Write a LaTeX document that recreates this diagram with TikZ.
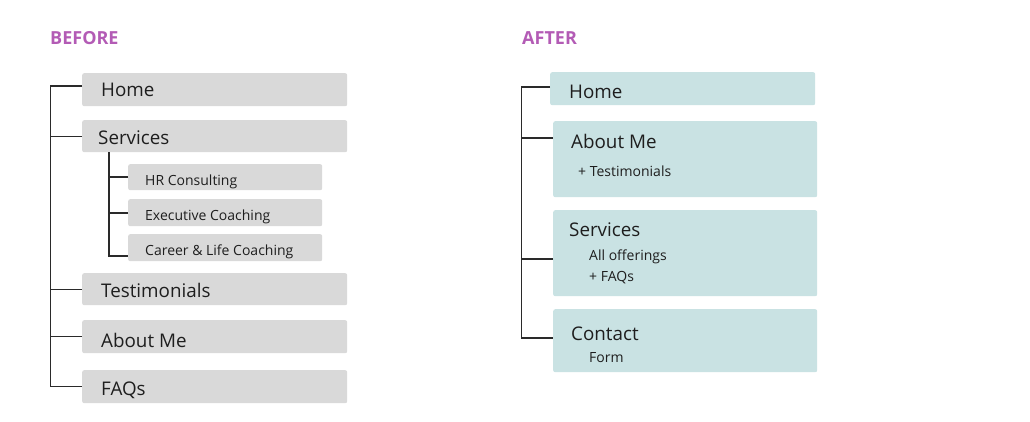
\documentclass[tikz,border=0pt]{standalone}
\usepackage{fontspec}
\setmainfont{Open Sans}
\usetikzlibrary{positioning,calc}
\definecolor{boxgray}{HTML}{D9D9D9}
\definecolor{boxteal}{HTML}{C9E2E3}
\definecolor{heading}{HTML}{B35BB5}
\definecolor{ink}{HTML}{1E1E1E}
\definecolor{wire}{HTML}{2A2A2A}

\begin{document}
\begin{tikzpicture}[x=1pt, y=-1pt,
  gbox/.style={fill=boxgray, rounded corners=2pt, anchor=north west, inner sep=0pt},
  tbox/.style={fill=boxteal, rounded corners=2pt, anchor=north west, inner sep=0pt},
  head/.style={font=\bfseries\fontsize{18}{20}\selectfont, text=heading, anchor=base west, inner sep=0pt},
  item/.style={font=\fontsize{18.8}{22}\selectfont, text=ink, anchor=base west, inner sep=0pt},
  sub/.style={font=\fontsize{14}{16}\selectfont, text=ink, anchor=base west, inner sep=0pt},
  tree/.style={draw=wire, line width=1.1pt}]
\useasboundingbox (0,0) rectangle (1030,421);

% before
\node[head] (hbefore) at (50,44) {BEFORE};
\node[gbox, minimum width=265pt, minimum height=33pt] (bhome) at (82,73) {};
\node[gbox, minimum width=265pt, minimum height=32pt] (bserv) at (82,120) {};
\node[gbox, minimum width=194pt, minimum height=26pt] (bhr) at (128,164) {};
\node[gbox, minimum width=194pt, minimum height=27pt] (bexec) at (128,199) {};
\node[gbox, minimum width=194pt, minimum height=27pt] (bcareer) at (128,234) {};
\node[gbox, minimum width=265pt, minimum height=32pt] (btest) at (82,273) {};
\node[gbox, minimum width=265pt, minimum height=33pt] (babout) at (82,320) {};
\node[gbox, minimum width=265pt, minimum height=33pt] (bfaqs) at (82,370) {};
\node[item] at (101,96) {Home};
\node[item] at (98,144) {Services};
\node[sub] at (145,185) {HR Consulting};
\node[sub] at (145,220) {Executive Coaching};
\node[sub] at (145,255) {Career \& Life Coaching};
\node[item] at (101,297) {Testimonials};
\node[item] at (101,347) {About Me};
\node[item] at (101,395) {FAQs};

\coordinate (btrunk) at (50.5,0);
\coordinate (bsub) at (109,152);
\draw[tree] ($(bhome.north west)+(0,13)$) -| (btrunk |- bfaqs.west) -- (bfaqs.west);
\foreach \b in {bserv, btest, babout}
  \draw[tree] (\b.west) -- (\b.west -| btrunk);
\draw[tree] (bsub) |- ($(bcareer.north west)+(0,22)$);
\foreach \b/\d in {bhr/13, bexec/14}
  \draw[tree] ($(\b.north west)+(0,\d)$) -- ++(-19,0);

% after
\node[head] (hafter) at (522,44) {AFTER};
\node[tbox, minimum width=265pt, minimum height=33pt] (ahome) at (550,72) {};
\node[tbox, minimum width=264pt, minimum height=76pt] (aabout) at (553,121) {};
\node[tbox, minimum width=264pt, minimum height=86pt] (aserv) at (553,210) {};
\node[tbox, minimum width=264pt, minimum height=63pt] (acont) at (553,309) {};
\node[item] at (569,98) {Home};
\node[item] at (571,148) {About Me};
\node[sub] at (578,176) {+ Testimonials};
\node[item] at (569,236) {Services};
\node[sub] at (589,260) {All offerings};
\node[sub] at (589,281) {+ FAQs};
\node[item] at (571,340) {Contact};
\node[sub] at (589,362) {Form};

\coordinate (atrunk) at (521.5,0);
\draw[tree] ($(ahome.north west)+(0,15)$) -| (atrunk |- 0,338) -- ($(acont.north west)+(0,29)$);
\foreach \b/\d in {aabout/17, aserv/49}
  \draw[tree] ($(\b.north west)+(0,\d)$) -- (atrunk |- {$(\b.north west)+(0,\d)$});
\end{tikzpicture}
\end{document}
